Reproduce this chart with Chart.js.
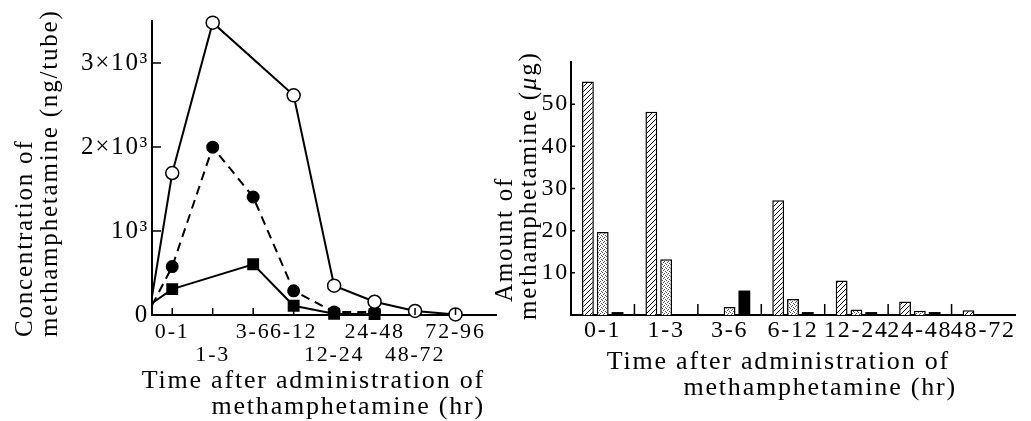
<!DOCTYPE html>
<html>
<head>
<meta charset="utf-8">
<title>Methamphetamine excretion</title>
<script src="https://cdn.jsdelivr.net/npm/chart.js@4.4.1/dist/chart.umd.min.js"></script>
<style>
  html, body { margin: 0; padding: 0; background: #fff; }
  #wrap { position: relative; width: 1031px; height: 421px; overflow: hidden; background: #fff; }
  canvas { position: absolute; top: 0; }
  #concChart { left: 0; }
  #amountChart { left: 490px; }
  .title {
    position: absolute;
    font-family: "Liberation Serif", "Times New Roman", serif;
    letter-spacing: 1.8px;
    white-space: nowrap;
    color: #000;
  }
  .title span { display: block; }
  /* rotated y axis titles, text runs bottom to top */
  .ytitle {
    font-size: 25px;
    line-height: 25px;
    transform: rotate(-90deg);
    transform-origin: 0 0;
  }
  #concTitle { left: 11px; top: 337px; }
  #amountTitle { left: 492px; top: 320px; line-height: 24px; }
  #amountTitle .first { padding-left: 18px; }
  /* x axis titles, right aligned in two lines */
  .xtitle { font-size: 26px; line-height: 26px; text-align: right; }
  #concXTitle { right: 546px; top: 367px; }
  #amountXTitle { right: 74px; top: 348px; }
  #amountXTitle .first { padding-right: 7px; }
</style>
</head>
<body>
<div id="wrap">
  <canvas id="concChart" width="505" height="421"></canvas>
  <canvas id="amountChart" width="541" height="421"></canvas>
  <div class="title ytitle" id="concTitle"><span>Concentration of</span><span>methamphetamine (ng/tube)</span></div>
  <div class="title ytitle" id="amountTitle"><span class="first">Amount of</span><span>methamphetamine (<i>μ</i>g)</span></div>
  <div class="title xtitle" id="concXTitle"><span>Time after administration of</span><span>methamphetamine (hr)</span></div>
  <div class="title xtitle" id="amountXTitle"><span class="first">Time after administration of</span><span>methamphetamine (hr)</span></div>
</div>
<script>
// ---- left panel: concentration (ng/tube) ----
const concTimes = ["0-1", "1-3", "3-6", "6-12", "12-24", "24-48", "48-72", "72-96"];
// labels printed on the second row under the axis
const concLowerRow = [false, true, false, false, true, false, true, false];
const openCircleValues = [1690, 3480, null, 2615, 349, 158, 48, 7];
const filledCircleValues = [576, 1998, 1405, 288, 36, 36, null, null];
const squareValues = [308, null, 604, 110, 15, 10, null, null];
// value at 0 hr where each line starts (open, filled, square)
const startValues = [220, 115, 140];
const concTickValues = [0, 1000, 2000, 3000];
const concTickLabels = ["0", "10³", "2×10³", "3×10³"];

// ---- right panel: amount (ug) ----
const amountTimes = ["0-1", "1-3", "3-6", "6-12", "12-24", "24-48", "48-72"];
const hatchedValues = [55.4, 48.2, null, 27.2, 8.2, 3.2, 1.1];
const dottedValues = [19.7, 13.2, 1.9, 3.8, 1.3, 1.0, null];
const blackValues = [0.7, null, 5.8, 0.7, 0.7, 0.7, null];
const amountTickValues = [10, 20, 30, 40, 50];

const FONT = "'Liberation Serif', 'Times New Roman', serif";

// spaced-out lettering like the printed figure
const letterSpacing = {
  id: "letterSpacing",
  beforeUpdate(chart, args, opts) {
    chart.ctx.letterSpacing = opts.value || "0px";
  },
  beforeDraw(chart, args, opts) {
    chart.ctx.letterSpacing = opts.value || "0px";
  },
};

// short tick marks pointing into the plot area
const innerTicks = {
  id: "innerTicks",
  afterDraw(chart, args, opts) {
    const { ctx, chartArea, scales } = chart;
    const x = scales.x;
    const y = scales.y;
    let xs = x.ticks.map((t, i) => x.getPixelForTick(i));
    if (opts.between) {
      xs = xs.slice(1).map((px, i) => (px + xs[i]) / 2);
    }
    ctx.save();
    ctx.strokeStyle = "#000";
    ctx.lineWidth = 1.5;
    ctx.beginPath();
    xs.forEach((px) => {
      ctx.moveTo(px, chartArea.bottom);
      ctx.lineTo(px, chartArea.bottom - opts.xLength);
    });
    y.ticks.forEach((t, i) => {
      if (t.value === 0) return;
      const py = y.getPixelForTick(i);
      ctx.moveTo(chartArea.left, py);
      ctx.lineTo(chartArea.left + opts.yLength, py);
    });
    ctx.stroke();
    ctx.restore();
  },
};

function makeHatch() {
  const c = document.createElement("canvas");
  c.width = 5;
  c.height = 5;
  const g = c.getContext("2d");
  g.fillStyle = "#fff";
  g.fillRect(0, 0, 5, 5);
  g.strokeStyle = "#000";
  g.lineWidth = 1;
  g.beginPath();
  g.moveTo(-1, 6);
  g.lineTo(6, -1);
  g.moveTo(-1, 1);
  g.lineTo(1, -1);
  g.moveTo(4, 6);
  g.lineTo(6, 4);
  g.stroke();
  return g.createPattern(c, "repeat");
}

function makeStipple() {
  const c = document.createElement("canvas");
  c.width = 4;
  c.height = 4;
  const g = c.getContext("2d");
  g.fillStyle = "#fff";
  g.fillRect(0, 0, 4, 4);
  g.fillStyle = "#555";
  [[0, 0], [2, 1], [1, 2], [3, 3]].forEach(([a, b]) => g.fillRect(a, b, 1, 1));
  return g.createPattern(c, "repeat");
}

// category i sits at x = i + 0.5, the line begins at 0 hr (x = 0)
function toPoints(values, start) {
  const pts = [{ x: 0, y: start }];
  values.forEach((v, i) => {
    if (v !== null) pts.push({ x: i + 0.5, y: v });
  });
  return pts;
}

function hideFirst(radius) {
  return (ctx) => (ctx.dataIndex === 0 ? 0 : radius);
}

new Chart(document.getElementById("concChart"), {
  type: "line",
  data: {
    datasets: [
      {
        data: toPoints(openCircleValues, startValues[0]),
        borderColor: "#000",
        borderWidth: 2,
        pointRadius: hideFirst(6.5),
        pointBackgroundColor: "#fff",
        pointBorderColor: "#000",
        pointBorderWidth: 1.5,
        clip: false,
      },
      {
        data: toPoints(filledCircleValues, startValues[1]),
        borderColor: "#000",
        borderWidth: 2,
        borderDash: [9, 6],
        pointRadius: hideFirst(5.5),
        pointBackgroundColor: "#000",
        pointBorderColor: "#000",
        clip: false,
      },
      {
        data: toPoints(squareValues, startValues[2]),
        borderColor: "#000",
        borderWidth: 2,
        pointStyle: "rect",
        pointRadius: hideFirst(7),
        pointBackgroundColor: "#000",
        pointBorderColor: "#000",
        clip: false,
      },
    ],
  },
  options: {
    responsive: false,
    animation: false,
    events: [],
    layout: { padding: { top: 21, right: 8, bottom: 0, left: 0 } },
    plugins: {
      legend: { display: false },
      tooltip: { enabled: false },
      letterSpacing: { value: "1.8px" },
      innerTicks: { xLength: 7, yLength: 9 },
    },
    scales: {
      x: {
        type: "linear",
        min: 0,
        max: 8.5,
        afterBuildTicks: (axis) => {
          axis.ticks = concTimes.map((_, i) => ({ value: i + 0.5 }));
        },
        afterFit: (axis) => {
          axis.height = 106;
        },
        grid: { drawOnChartArea: false, drawTicks: false },
        border: { color: "#000", width: 2 },
        ticks: {
          autoSkip: false,
          maxRotation: 0,
          padding: 5,
          color: "#000",
          font: { family: FONT, size: 22, lineHeight: 1.07 },
          callback: (value, index) =>
            concLowerRow[index] ? ["", concTimes[index]] : [concTimes[index], ""],
        },
        title: { display: false },
      },
      y: {
        min: 0,
        max: 3500,
        afterBuildTicks: (axis) => {
          axis.ticks = concTickValues.map((v) => ({ value: v }));
        },
        afterFit: (axis) => {
          axis.width = 152;
        },
        grid: { drawOnChartArea: false, drawTicks: false },
        border: { color: "#000", width: 2 },
        ticks: {
          padding: 3,
          color: "#000",
          font: { family: FONT, size: 25 },
          callback: (value, index) => concTickLabels[index],
        },
        title: { display: false },
      },
    },
  },
  plugins: [letterSpacing, innerTicks],
});

const barStyle = {
  borderColor: "#000",
  borderWidth: 1.5,
  categoryPercentage: 0.7,
  barPercentage: 0.8,
};

new Chart(document.getElementById("amountChart"), {
  type: "bar",
  data: {
    labels: amountTimes,
    datasets: [
      { ...barStyle, data: hatchedValues, backgroundColor: makeHatch() },
      { ...barStyle, data: dottedValues, backgroundColor: makeStipple() },
      { ...barStyle, data: blackValues, backgroundColor: "#000", borderWidth: 0 },
    ],
  },
  options: {
    responsive: false,
    animation: false,
    events: [],
    layout: { padding: { top: 62, right: 16, bottom: 0, left: 0 } },
    plugins: {
      legend: { display: false },
      tooltip: { enabled: false },
      letterSpacing: { value: "1.8px" },
      innerTicks: { between: true, xLength: 11, yLength: 4 },
    },
    scales: {
      x: {
        afterFit: (axis) => {
          axis.height = 106;
        },
        grid: { drawOnChartArea: false, drawTicks: false },
        border: { color: "#000", width: 2 },
        ticks: {
          autoSkip: false,
          maxRotation: 0,
          padding: 3,
          color: "#000",
          font: { family: FONT, size: 24, lineHeight: 1.1 },
        },
        title: { display: false },
      },
      y: {
        min: 0,
        max: 60,
        afterBuildTicks: (axis) => {
          axis.ticks = amountTickValues.map((v) => ({ value: v }));
        },
        afterFit: (axis) => {
          axis.width = 81;
        },
        grid: { drawOnChartArea: false, drawTicks: false },
        border: { color: "#000", width: 2 },
        ticks: {
          padding: 2,
          color: "#000",
          font: { family: FONT, size: 24 },
        },
        title: { display: false },
      },
    },
  },
  plugins: [letterSpacing, innerTicks],
});
</script>
</body>
</html>
